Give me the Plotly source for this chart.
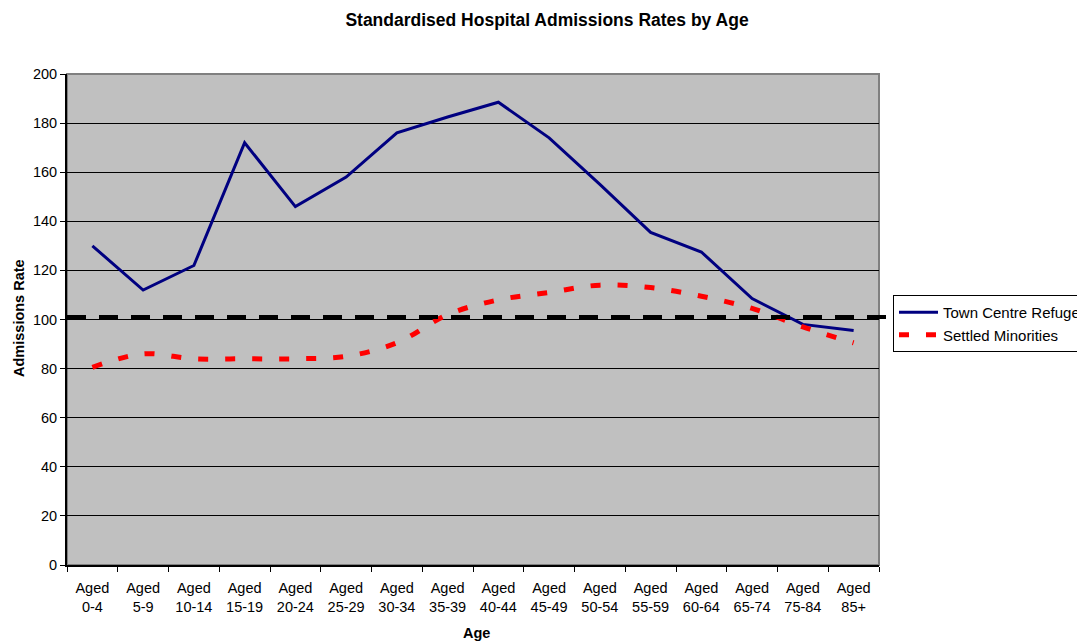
import plotly.graph_objects as go

age_groups = ["Aged<br>0-4", "Aged<br>5-9", "Aged<br>10-14", "Aged<br>15-19", "Aged<br>20-24",
              "Aged<br>25-29", "Aged<br>30-34", "Aged<br>35-39", "Aged<br>40-44", "Aged<br>45-49",
              "Aged<br>50-54", "Aged<br>55-59", "Aged<br>60-64", "Aged<br>65-74", "Aged<br>75-84",
              "Aged<br>85+"]
town_centre_refuge = [130, 112, 122, 172, 146, 158, 176, 182.5, 188.5, 174, 155, 135.5, 127.5, 108.5, 98, 95.5]
settled_minorities = [80.5, 86, 84, 84, 84, 85, 90.5, 102, 108, 111, 114, 113, 109.5, 104.5, 97, 90.5]
reference_level = 101
y_ticks = list(range(0, 201, 20))

FONT = "Arial, Liberation Sans, sans-serif"
OFF = 8  # page body margin
W, H = 1085 - OFF, 641 - OFF
L, T = 67 - OFF, 74 - OFF
pw = 879 - 67
ph = 565 - 74
R = W - L - pw
B = H - T - ph


def px(x):
    return (x - 67) / pw


def py(y):
    return (565 - y) / ph


fig = go.Figure()
fig.add_trace(go.Scatter(x=age_groups, y=town_centre_refuge, mode="lines", name="Town Centre Refuge",
                         line=dict(color="#000080", width=3)))
fig.add_trace(go.Scatter(x=age_groups, y=settled_minorities, mode="lines", name="Settled Minorities",
                         line=dict(color="#FF0000", width=5, dash="10px,17px", shape="spline", smoothing=1)))

fig.add_shape(type="line", xref="paper", yref="y", x0=0, x1=px(887),
              y0=reference_level, y1=reference_level,
              line=dict(color="black", width=4, dash="19px,13px"), layer="above")
fig.add_shape(type="rect", xref="paper", yref="paper", x0=0, x1=1, y0=0, y1=1,
              line=dict(color="#808080", width=2), layer="below")

fig.add_annotation(text="<b>Admissions Rate</b>", textangle=-90, xref="paper", yref="paper",
                   x=px(18.5), y=py(318.5), xanchor="center", yanchor="middle",
                   showarrow=False, font=dict(family=FONT, size=14.5, color="black"))
fig.add_annotation(text="<b>Age</b>", xref="paper", yref="paper",
                   x=px(476), y=py(633), xanchor="center", yanchor="middle",
                   showarrow=False, font=dict(family=FONT, size=14.5, color="black"))

fig.update_layout(
    width=W, height=H,
    margin=dict(l=L, r=R, t=T, b=B, autoexpand=False),
    paper_bgcolor="white", plot_bgcolor="#C0C0C0",
    font=dict(family=FONT, size=14.5, color="black"),
    title=dict(text="<b>Standardised Hospital Admissions Rates by Age</b>", xref="container", yref="container",
               x=(547 - OFF) / W, y=1 - (20 - OFF) / H, xanchor="center", yanchor="middle",
               font=dict(family=FONT, size=17.5, color="black")),
    xaxis=dict(type="category", range=[-0.5, len(age_groups) - 0.5], tickson="boundaries",
               ticks="outside", ticklen=5, tickcolor="black", ticklabelstandoff=9,
               tickwidth=1, showline=True, linecolor="black", linewidth=2, showgrid=False,
               zeroline=False, tickfont=dict(family=FONT, size=14.5, color="black")),
    yaxis=dict(range=[0, 200], tickvals=y_ticks, ticks="outside", ticklen=5, tickcolor="black",
               showline=True, linecolor="black", linewidth=2, showgrid=True, gridcolor="black",
               gridwidth=1, zeroline=False, tickfont=dict(family=FONT, size=14.5, color="black")),
    legend=dict(x=px(893), y=py(295), xanchor="left", yanchor="top", itemwidth=39,
                bgcolor="white", bordercolor="black", borderwidth=1,
                font=dict(family=FONT, size=15, color="black")),
    showlegend=True,
)

fig.write_html("out.html")
